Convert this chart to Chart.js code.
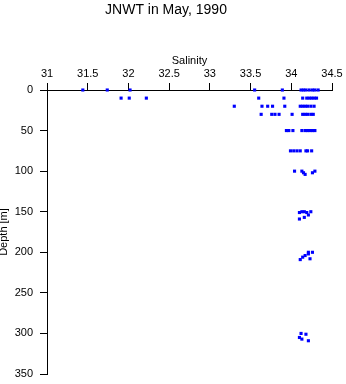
<!DOCTYPE html>
<html>
<head>
<meta charset="utf-8">
<script src="https://cdn.jsdelivr.net/npm/chart.js@4/dist/chart.umd.min.js"></script>
<style>
  html, body { margin: 0; padding: 0; background: #fff; }
  #wrap { width: 346px; height: 384px; position: relative; }
</style>
</head>
<body>
<div id="wrap"><canvas id="c" width="346" height="384"></canvas></div>
<script>
// Salinity / depth samples
const salinity = [
  31.44, 31.74, 32.02, 33.55, 33.89, 34.12, 34.15, 34.18, 34.22, 34.26, 34.29, 34.33,
  31.91, 32.01, 32.22, 33.60, 33.91, 34.14, 34.19, 34.22, 34.25, 34.28, 34.31,
  33.30, 33.64, 33.71, 33.77, 33.92, 34.11, 34.14, 34.17, 34.20, 34.24, 34.28,
  33.63, 33.76, 33.80, 33.85, 34.01, 34.14, 34.17, 34.20, 34.24, 34.27,
  33.94, 33.97, 34.02, 34.13, 34.17, 34.20, 34.23, 34.26, 34.29,
  33.99, 34.03, 34.07, 34.11, 34.18, 34.20, 34.25,
  34.04, 34.13, 34.15, 34.17, 34.26, 34.29,
  34.10, 34.13, 34.16, 34.19, 34.21, 34.24, 34.16, 34.10,
  34.26, 34.21, 34.21, 34.17, 34.14, 34.11, 34.23,
  34.12, 34.18, 34.10, 34.13, 34.21
];
const depth = [
  0, 0, 0, 0, 0, 0, 0, 0, 0, 0, 0, 0,
  10, 10, 10, 10, 10, 10, 10, 10, 10, 10, 10,
  20, 20, 20, 20, 20, 20, 20, 20, 20, 20, 20,
  30, 30, 30, 30, 30, 30, 30, 30, 30, 30,
  50, 50, 50, 50, 50, 50, 50, 50, 50,
  75, 75, 75, 75, 75, 75, 75,
  100, 100, 102, 104, 102, 100,
  151, 150, 150, 151, 154, 150, 157, 159,
  200, 200, 202, 204, 206, 209, 208,
  300, 301, 305, 307, 309
];
const xTickLabels = ['31', '31.5', '32', '32.5', '33', '33.5', '34', '34.5'];
const yTickLabels = ['0', '50', '100', '150', '200', '250', '300', '350'];
const titleText = 'JNWT in May, 1990';
const xTitle = 'Salinity';
const yTitle = 'Depth [m]';

const points = salinity.map((s, i) => ({ x: s, y: depth[i] }));
const FONT = "'Liberation Sans', Arial, Helvetica, sans-serif";

new Chart(document.getElementById('c'), {
  type: 'scatter',
  data: {
    datasets: [{
      data: points,
      clip: false,
      pointStyle: 'rect',
      pointRadius: 2.2,
      pointBorderWidth: 0,
      pointBackgroundColor: '#0000ff',
      pointBorderColor: '#0000ff'
    }]
  },
  options: {
    responsive: false,
    animation: false,
    devicePixelRatio: 1,
    layout: { padding: { top: 0, left: 0, right: 14, bottom: 10 } },
    plugins: {
      legend: { display: false },
      tooltip: { enabled: false },
      title: {
        display: true,
        text: titleText,
        color: '#000',
        font: { family: FONT, size: 14, weight: 'normal' },
        padding: { top: 2, bottom: 0 }
      }
    },
    scales: {
      x: {
        type: 'linear',
        position: 'top',
        min: 31, max: 34.5,
        afterFit: (s) => { s.height = 90 - 16.8 - 2; },
        afterBuildTicks: (s) => {
          s.ticks = xTickLabels.map(l => ({ value: parseFloat(l) }));
        },
        ticks: {
          color: '#000',
          font: { family: FONT, size: 11 },
          padding: 2,
          maxRotation: 0,
          autoSkip: false,
          callback: (v) => xTickLabels.find(l => parseFloat(l) === v) ?? ''
        },
        grid: { display: true, drawOnChartArea: false, drawTicks: true, tickLength: 7, color: '#000', lineWidth: 1 },
        border: { display: true, color: '#000', width: 1 },
        title: {
          display: true,
          text: xTitle,
          color: '#000',
          font: { family: FONT, size: 11 },
          padding: { top: 36, bottom: 0 }
        }
      },
      y: {
        type: 'linear',
        position: 'left',
        reverse: true,
        min: 0, max: 350,
        afterFit: (s) => { s.width = 47; s.paddingTop = 6; s.paddingBottom = 6; },
        afterBuildTicks: (s) => {
          s.ticks = yTickLabels.map(l => ({ value: parseFloat(l) }));
        },
        ticks: {
          color: '#000',
          font: { family: FONT, size: 11 },
          padding: 7,
          autoSkip: false,
          callback: (v) => yTickLabels.find(l => parseFloat(l) === v) ?? ''
        },
        grid: { display: true, drawOnChartArea: false, drawTicks: true, tickLength: 7, color: '#000', lineWidth: 1 },
        border: { display: true, color: '#000', width: 1 },
        title: {
          display: true,
          text: yTitle,
          color: '#000',
          font: { family: FONT, size: 11, lineHeight: 0.8 },
          padding: { top: 0, bottom: 0 }
        }
      }
    }
  }
});
</script>
</body>
</html>
